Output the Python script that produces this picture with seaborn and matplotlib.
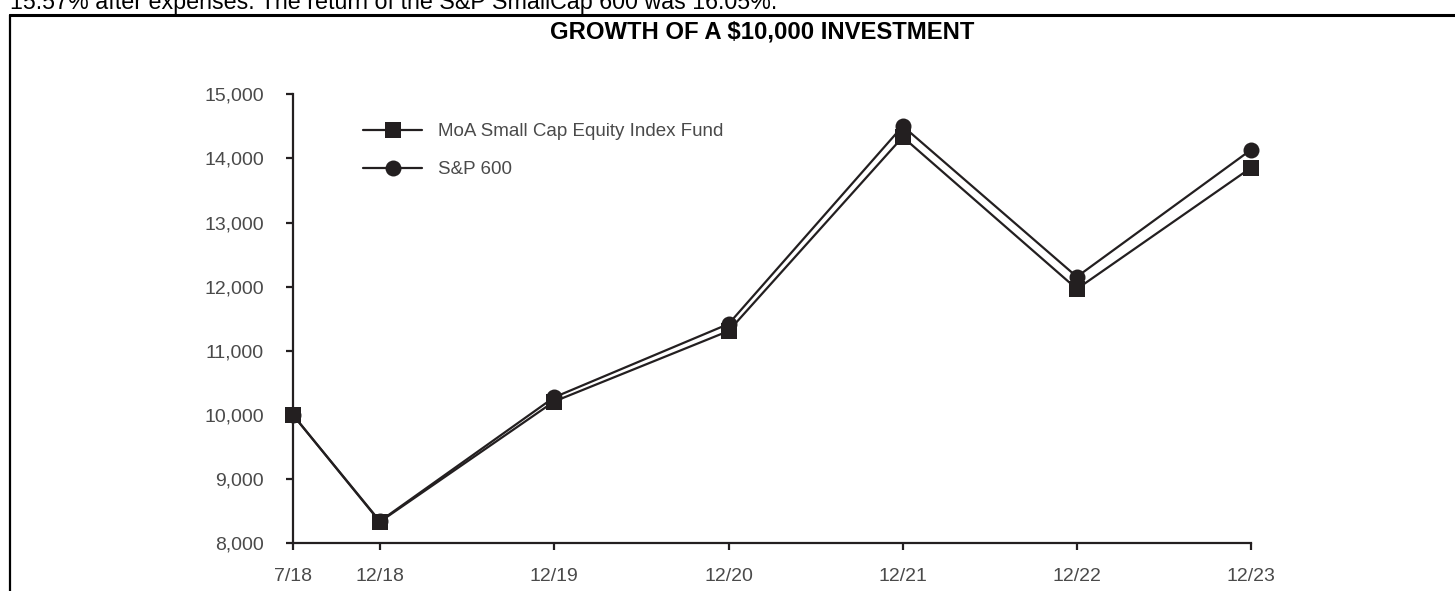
import matplotlib
matplotlib.use("Agg")
import matplotlib.pyplot as plt
from matplotlib.lines import Line2D
import pandas as pd
import seaborn as sns

# period ends (fund started early July 2018)
dates = pd.to_datetime(["2018-07-02", "2018-12-31", "2019-12-31", "2020-12-31",
                        "2021-12-31", "2022-12-31", "2023-12-31"])
tick_labels = ["7/18", "12/18", "12/19", "12/20", "12/21", "12/22", "12/23"]

fund_name = "MoA Small Cap Equity Index Fund"
index_name = "S&P 600"
fund = [10000, 8335, 10210, 11310, 14335, 11965, 13855]
sp600 = [10000, 8345, 10275, 11420, 14505, 12155, 14135]

y_ticks = [8000, 9000, 10000, 11000, 12000, 13000, 14000, 15000]

title = "GROWTH OF A $10,000 INVESTMENT"
top_note = "15.57% after expenses. The return of the S&P SmallCap 600 was 16.05%."

ink = "#231f20"
grey = "#4a4a4a"

sns.set_style("ticks")
plt.rcParams["font.family"] = ["Liberation Sans", "DejaVu Sans"]

fig = plt.figure(figsize=(14.55, 5.91), dpi=100)
ax = fig.add_axes([0.2014, 0.0807, 0.6584, 0.7597])

sns.lineplot(x=dates, y=fund, ax=ax, color=ink, linewidth=1.6, marker="s",
             markersize=11.5, markeredgewidth=0, label=fund_name, clip_on=False)
sns.lineplot(x=dates, y=sp600, ax=ax, color=ink, linewidth=1.6, marker="o",
             markersize=11.5, markeredgewidth=0, label=index_name, clip_on=False)

ax.set_xlim(dates[0], dates[-1])
ax.set_ylim(y_ticks[0], y_ticks[-1])
ax.set_xticks(dates)
ax.set_xticklabels(tick_labels)
ax.set_yticks(y_ticks)
ax.set_yticklabels([f"{v:,}" for v in y_ticks])
ax.set_xlabel("")
ax.set_ylabel("")

sns.despine(ax=ax)
for side in ["left", "bottom"]:
    ax.spines[side].set_color(ink)
    ax.spines[side].set_linewidth(1.6)
ax.tick_params(axis="both", colors=ink, labelcolor=grey, labelsize=14,
               width=1.6, length=5)
ax.tick_params(axis="x", pad=12.5)
ax.tick_params(axis="y", pad=16)

leg = ax.legend(loc="upper left", bbox_to_anchor=(0.073, 0.936), frameon=False,
                fontsize=13.5, handlelength=3.15, handletextpad=0.85,
                labelspacing=1.11, borderpad=0, borderaxespad=0)
for t in leg.get_texts():
    t.set_color(grey)

# page frame around the chart
fig.add_artist(Line2D([10 / 1455, 1], [1 - 15 / 591, 1 - 15 / 591],
                      color="black", linewidth=2.2))
fig.add_artist(Line2D([10 / 1455, 10 / 1455], [0, 1 - 15 / 591],
                      color="black", linewidth=1.6))

fig.text(762 / 1455, 1 - 39 / 591, title, ha="center", va="baseline",
         fontsize=17.2, fontweight="bold", color="black")
fig.text(10 / 1455, 1 - 9 / 591, top_note, ha="left", va="baseline",
         fontsize=16.75, color="black")

fig.savefig("out.png", dpi=100)
